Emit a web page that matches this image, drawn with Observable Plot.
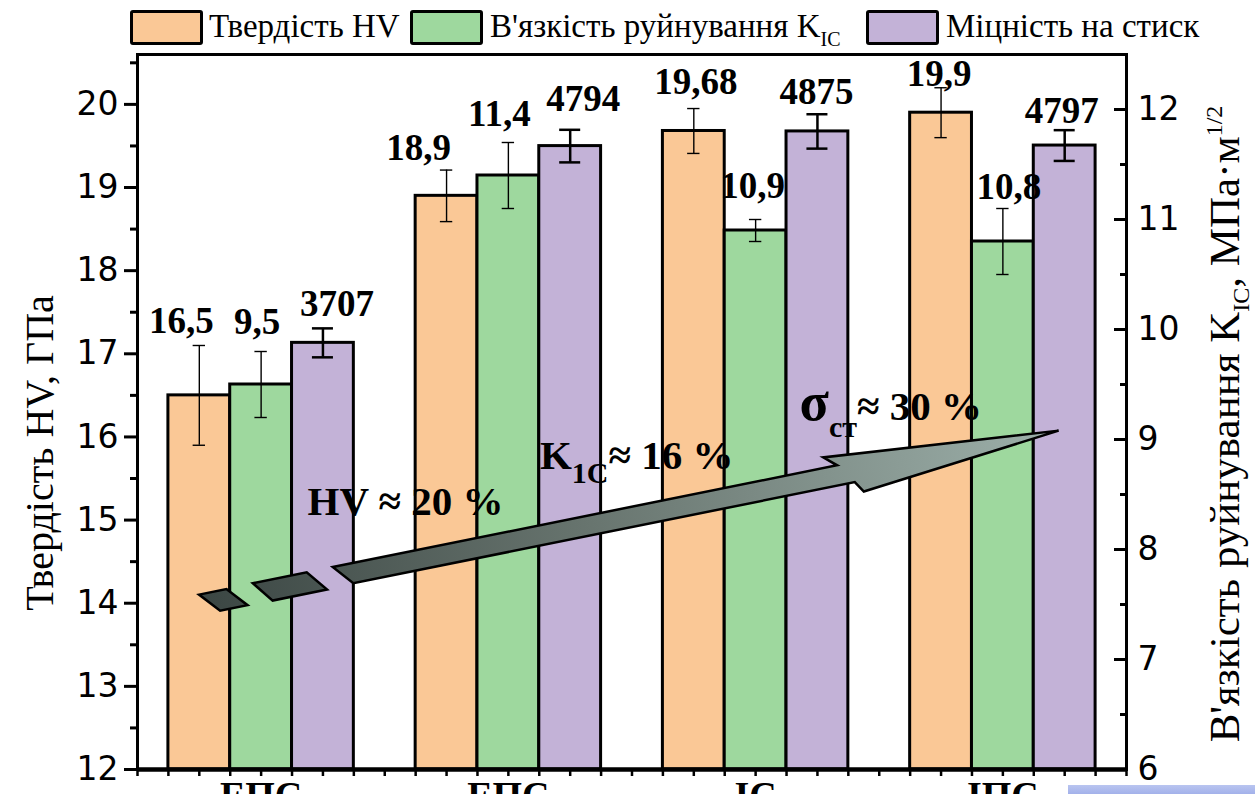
<!DOCTYPE html>
<html><head><meta charset="utf-8">
<script src="https://cdn.jsdelivr.net/npm/d3@7"></script>
<script src="https://cdn.jsdelivr.net/npm/@observablehq/plot@0.6"></script>
<style>
html,body{margin:0;padding:0;background:#fff}
body{width:1255px;height:794px;overflow:hidden;position:relative;font-family:"Liberation Serif",serif}
#legend{position:relative;height:50px}
.sw{position:absolute;top:10px;width:73px;height:35px;box-sizing:border-box;border:3px solid #000;border-radius:3px}
.lt{position:absolute;top:7px;font-size:33px;line-height:38px;white-space:nowrap;color:#000}
.lt sub{font-size:20px;vertical-align:-9px;line-height:0}
#chart{position:absolute;left:0;top:50px}
#artifact{position:absolute;left:1068px;top:785px;width:187px;height:9px;background:linear-gradient(#b9c5f0,#a3b1ea)}
</style></head><body>
<div id="legend"></div>
<div id="chart"></div>
<div id="artifact"></div>
<script>
// ---------------- data ----------------
const groups = ["ЕПС", "ЕПС", "ІС", "ІПС"];
const seriesNames = ["Твердість HV", "В'язкість руйнування K", "Міцність на стиск"];
const hardness = [16.5, 18.9, 19.68, 19.9];          // HV, ГПа (left axis)
const hardnessErr = [0.6, 0.31, 0.27, 0.3];
const toughness = [9.5, 11.4, 10.9, 10.8];            // K_IC, МПа·м^1/2 (right axis)
const toughnessErr = [0.3, 0.3, 0.1, 0.3];
const strength = [3707, 4794, 4875, 4797];            // compressive strength (hidden axis)
const strengthErr = [80, 90, 95, 85];
const leftTicks = [12, 13, 14, 15, 16, 17, 18, 19, 20];
const rightTicks = [6, 7, 8, 9, 10, 11, 12];
const annotations = [
  {x: 2.75, y: 15.06, parts: [["HV ≈ 20 %"]]},
  {x: 6.51, y: 15.62, parts: [["K"], ["1C", "sub"], ["≈ 16 %"]]},
  {x: 10.71, y: 16.2, parts: [["σ", "big"], ["ст", "sub2"], ["≈ 30 %"]]}
];
const arrowFrom = [1.17, 14.0];
const arrowTo = [14.91, 16.07];

// ---------------- layout / style constants ----------------
// value-label nudges in px (order: group by group, HV, K, strength): [dx, gap above error bar]
const labelNudge = [[-18, 12], [-4, 18], [14, 12], [-28, 10], [-9, 17], [13, 19], [2, 15], [-3, 22], [-1, 10], [-2, 2], [6, 10], [-3, 7]];
const colors = ["#fac896", "#9ed89e", "#c3b2d7"];

// ---------------- scales ----------------
const yDomain = [12, 20.6];
const kDomain = [6, 12.5];
const sDomain = [1350, 5300];
const kToY = k => yDomain[0] + (k - kDomain[0]) * (yDomain[1] - yDomain[0]) / (kDomain[1] - kDomain[0]);
const yToK = y => kDomain[0] + (y - yDomain[0]) * (kDomain[1] - kDomain[0]) / (yDomain[1] - yDomain[0]);
const sToY = s => yDomain[0] + (s - sDomain[0]) * (yDomain[1] - yDomain[0]) / (sDomain[1] - sDomain[0]);
const comma = v => String(v).replace(".", ",");

const series = [
  {values: hardness, errors: hardnessErr, map: v => v, fmt: comma},
  {values: toughness, errors: toughnessErr, map: kToY, fmt: comma},
  {values: strength, errors: strengthErr, map: sToY, fmt: v => String(v)}
];
const rows = [];
groups.forEach((g, i) => series.forEach((s, j) => {
  const v = s.values[i], e = s.errors[i];
  rows.push({group: g, j, x: 4 * i + j + 1, y: s.map(v), lo: s.map(v - e), hi: s.map(v + e), label: s.fmt(v)});
}));
const caps = rows.flatMap(r => [{...r, yc: r.lo}, {...r, yc: r.hi}]);

// ---------------- legend ----------------
const legend = document.getElementById("legend");
const swX = [130, 410, 866], txX = [209, 490, 946];
seriesNames.forEach((n, j) => {
  const b = document.createElement("div"); b.className = "sw"; b.style.left = swX[j] + "px"; b.style.background = colors[j]; legend.appendChild(b);
  const t = document.createElement("div"); t.className = "lt"; t.style.left = txX[j] + "px";
  t.textContent = n;
  if (j === 1) { const s = document.createElement("sub"); s.textContent = "IC"; t.appendChild(s); }
  legend.appendChild(t);
});

// ---------------- arrow (custom mark) ----------------
function arrowMark(index, scales) {
  const X = scales.x, Y = scales.y;
  const sx = X(arrowFrom[0]), sy = Y(arrowFrom[1]);
  const tx = X(arrowTo[0]), ty = Y(arrowTo[1]);
  const L = Math.hypot(tx - sx, ty - sy);
  const d = [(tx - sx) / L, (ty - sy) / L], n = [d[1], -d[0]];
  const P = ([u, v]) => [sx + u * d[0] + v * n[0], sy + u * d[1] + v * n[1]];
  const shapes = [
    [[-8.5, 10], [19.5, 10], [37, -10], [9, -10]],
    [[46.5, 10.5], [101.5, 10.5], [118, -10.5], [62.5, -10.5]],
    [[128, 10.5], [L - 224, 10], [L - 236, 20.5], [L, 0], [L - 203, -21], [L - 210, -10], [145, -9.5]]
  ];
  const g = d3.create("svg:g");
  const grad = g.append("defs").append("linearGradient").attr("id", "arrowGrad")
    .attr("gradientUnits", "userSpaceOnUse").attr("x1", sx).attr("y1", sy).attr("x2", tx).attr("y2", ty);
  [[0, "#3c4744"], [0.45, "#68756f"], [1, "#9db0aa"]].forEach(s => grad.append("stop").attr("offset", s[0]).attr("stop-color", s[1]));
  shapes.forEach(s => g.append("path")
    .attr("d", "M" + s.map(P).map(p => p.join(",")).join("L") + "Z")
    .attr("fill", "url(#arrowGrad)").attr("stroke", "#000").attr("stroke-width", 2.5).attr("stroke-linejoin", "miter"));
  return g.node();
}

const W = 1255, H = 744;
const unitPx = (W - 137 - 129) / 16;
const serif = "Liberation Serif";
const sans = "DejaVu Sans";

const valueLabels = rows.map((r, k) => Plot.text([r], {x: "x", y: "hi", text: "label", dx: labelNudge[k][0], dy: -labelNudge[k][1], lineAnchor: "bottom", fontSize: 37, fontWeight: "bold", fontFamily: serif, fill: "#000"}));

const plot = Plot.plot({
  width: W, height: H,
  marginTop: 4, marginBottom: 25, marginLeft: 137, marginRight: 129,
  x: {domain: [0, 16], axis: null},
  y: {domain: yDomain, axis: null},
  style: {background: "transparent", overflow: "visible", fontFamily: serif},
  marks: [
    Plot.rectY(rows, {x1: d => d.x - 0.5, x2: d => d.x + 0.5, y1: yDomain[0], y2: "y", fill: d => colors[d.j], stroke: "#000", strokeWidth: 3}),
    Plot.ruleX(rows, {x: "x", y1: "lo", y2: "hi", stroke: "#000", strokeWidth: d => d.j === 2 ? 2.5 : 1.4}),
    Plot.ruleY(caps, {y: "yc", x1: d => d.x - (d.j === 2 ? 0.17 : 0.1), x2: d => d.x + (d.j === 2 ? 0.17 : 0.1), stroke: "#000", strokeWidth: d => d.j === 2 ? 2.5 : 1.4}),
    arrowMark,
    ...valueLabels,
    Plot.text(annotations, {x: "x", y: "y", text: d => d.parts.map(p => p[0]).join(""), textAnchor: "start", lineAnchor: "bottom", fontSize: 41, fontWeight: "bold", fontFamily: serif, fill: "#000"}),
    // frame
    Plot.frame({stroke: "#000", strokeWidth: 3}),
    Plot.ruleY([yDomain[0]], {stroke: "#000", strokeWidth: 4.5}),
    // left axis
    Plot.axisY(leftTicks, {anchor: "left", tickSize: 13, tickPadding: 6, strokeWidth: 3, fontSize: 33, fontFamily: sans, fill: "#000", tickFormat: v => String(v), label: null}),
    Plot.axisY(d3.range(12.5, 20.6, 1), {anchor: "left", tickSize: 7, strokeWidth: 3, tickFormat: () => "", label: null}),
    // right axis (K_IC)
    Plot.axisY(rightTicks.map(kToY), {anchor: "right", tickSize: 0, tickPadding: 11, fontSize: 33, fontFamily: sans, fill: "#000", tickFormat: v => String(Math.round(yToK(v))), label: null}),
    Plot.ruleY(rightTicks.map(kToY), {x1: 16 - 12 / unitPx, x2: 16, stroke: "#000", strokeWidth: 3}),
    Plot.ruleY(d3.range(6.5, 12.1, 1).map(kToY), {x1: 16 - 6 / unitPx, x2: 16, stroke: "#000", strokeWidth: 3}),
    // bottom axis
    Plot.axisX(d3.range(0, 16.01, 0.5), {anchor: "bottom", tickSize: 7, strokeWidth: 2.5, tickFormat: () => "", label: null}),
    Plot.axisX(groups.map((g, i) => 4 * i + 2), {anchor: "bottom", tickSize: 0, tickPadding: 12, fontSize: 38, fontWeight: "bold", fontFamily: serif, fill: "#000", tickFormat: v => groups[(v - 2) / 4], label: null}),
    // axis titles
    Plot.text(["Твердість HV, ГПа"], {frameAnchor: "left", textAnchor: "middle", dx: -97, dy: 41, rotate: -90, fontSize: 40, fontFamily: serif, fill: "#000"}),
    Plot.text(["В'язкість руйнування KIC, МПа·м1/2"], {frameAnchor: "right", textAnchor: "middle", dx: 99, dy: 12, rotate: -90, fontSize: 43, fontFamily: serif, fill: "#000"})
  ]
});
document.getElementById("chart").appendChild(plot);

// rich text (sub/superscripts)
const roleStyle = {
  base: {}, sub: {size: 30, shift: 14}, sub2: {size: 30, shift: 17}, big: {size: 54},
  tsub: {size: 24, shift: 10}, tsup: {size: 24, shift: -17}
};
function richify(parts) {
  const full = parts.map(p => p[0]).join("");
  plot.querySelectorAll("text").forEach(t => {
    if (t.textContent !== full) return;
    t.textContent = "";
    let cur = 0;
    for (const [s, role] of parts) {
      const st = roleStyle[role || "base"];
      const ts = document.createElementNS("http://www.w3.org/2000/svg", "tspan");
      ts.textContent = s;
      if (st.size) ts.setAttribute("font-size", st.size);
      const sh = st.shift || 0;
      if (sh !== cur) ts.setAttribute("dy", sh - cur);
      cur = sh;
      t.appendChild(ts);
    }
  });
}
annotations.forEach(a => richify(a.parts));
richify([["В'язкість руйнування K"], ["IC", "tsub"], [", МПа·м"], ["1/2", "tsup"]]);
</script>
</body></html>
